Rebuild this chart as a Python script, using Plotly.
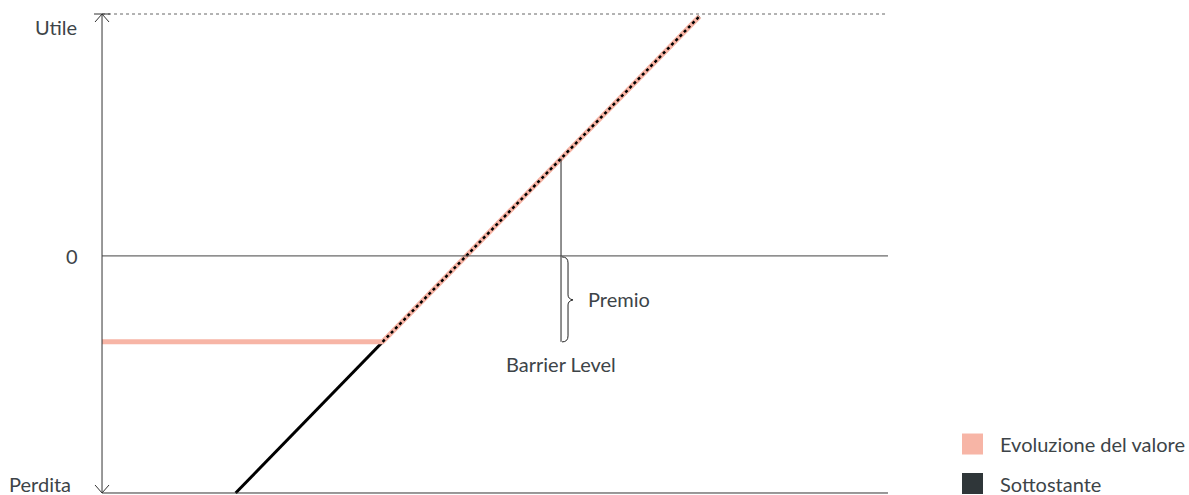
import plotly.graph_objects as go

# payoff diagram (underlying price on x, profit/loss on y)
sottostante_x = [17, 76]
sottostante_y = [-98, 99]
valore_x = [0, 35.7, 76]
valore_y = [-35.5, -35.5, 99]
barrier_x = 58.4
barrier_y = -35.5
premio_top = 40.2
y_min, y_max = -98, 100
y_labels = ["Utile", "0", "Perdita"]
y_label_vals = [y_max, 0, y_min]
legend_names = ["Evoluzione del valore", "Sottostante"]

SALMON = "#F7B5A6"
DARK = "#2F3639"
TEXT = "#3D4448"
FONT = "Lato"
FS = 20

fig = go.Figure()

fig.add_trace(go.Scatter(x=sottostante_x, y=sottostante_y, mode="lines",
                         line=dict(color="#000000", width=3), showlegend=False, hoverinfo="skip"))
fig.add_trace(go.Scatter(x=valore_x, y=valore_y, mode="lines",
                         line=dict(color=SALMON, width=5), showlegend=False, hoverinfo="skip"))
fig.add_trace(go.Scatter(x=valore_x[1:], y=valore_y[1:], mode="lines",
                         line=dict(color="#000000", width=2.5, dash="dot"), showlegend=False, hoverinfo="skip"))
# premium marker
fig.add_trace(go.Scatter(x=[barrier_x, barrier_x], y=[barrier_y, premio_top], mode="lines",
                         line=dict(color="#222222", width=1), showlegend=False, hoverinfo="skip"))

shapes = []
# vertical axis
shapes.append(dict(type="line", xref="x", yref="y", x0=0, x1=0, y0=y_min, y1=y_max,
                   line=dict(color="#333333", width=1)))
# top dotted line
shapes.append(dict(type="line", xref="x", yref="y", x0=0, x1=100, y0=y_max, y1=y_max,
                   line=dict(color="#666666", width=1, dash="dot")))
# zero line and bottom line
shapes.append(dict(type="line", xref="x", yref="y", x0=0, x1=100, y0=0, y1=0,
                   line=dict(color="#444444", width=1)))
shapes.append(dict(type="line", xref="x", yref="y", x0=0, x1=100, y0=y_min, y1=y_min,
                   line=dict(color="#333333", width=1)))
# arrow heads (pixel paths anchored on the axis)
shapes.append(dict(type="path", xref="x", yref="y", xsizemode="pixel", ysizemode="pixel",
                   xanchor=0, yanchor=y_max, path="M -7,-8 L 0,0 L 7,-8 M -8,0 L 8,0",
                   line=dict(color="#333333", width=1)))
shapes.append(dict(type="path", xref="x", yref="y", xsizemode="pixel", ysizemode="pixel",
                   xanchor=0, yanchor=y_min, path="M -7,8 L 0,0 L 7,8",
                   line=dict(color="#333333", width=1)))
# curly brace for the premium
shapes.append(dict(type="path", xref="x", yref="y", xsizemode="pixel", ysizemode="pixel",
                   xanchor=barrier_x, yanchor=0,
                   path="M 1,-1 Q 7,-1 7,-7 L 7,-39 Q 7,-43 12,-44 Q 7,-45 7,-49 "
                        "L 7,-80 Q 7,-86 1,-86",
                   line=dict(color="#222222", width=1)))
# legend squares
leg_x = 1.0873
leg_y = [0.1047, 0.0236]
for col, ly in zip([SALMON, DARK], leg_y):
    shapes.append(dict(type="rect", xref="paper", yref="paper", xsizemode="pixel", ysizemode="pixel",
                       xanchor=leg_x, yanchor=ly, x0=0, x1=21, y0=-10.5, y1=10.5,
                       fillcolor=col, line=dict(width=0)))

annotations = []
label_pos = {y_max: (-23, -13), 0: (-22, 0), y_min: (-29, 9)}
for lab, v in zip(y_labels, y_label_vals):
    xs, ys = label_pos[v]
    annotations.append(dict(x=0, y=v, xref="x", yref="y", text=lab, showarrow=False,
                            xanchor="right", yanchor="middle", xshift=xs, yshift=ys,
                            font=dict(size=FS, color=TEXT, family=FONT)))
annotations.append(dict(x=barrier_x, y=barrier_y, xref="x", yref="y", text="Barrier Level",
                        showarrow=False, yanchor="middle", yshift=-22,
                        font=dict(size=FS, color=TEXT, family=FONT)))
annotations.append(dict(x=barrier_x, y=barrier_y / 2, xref="x", yref="y", text="Premio",
                        showarrow=False, xanchor="left", yanchor="middle", xshift=25,
                        font=dict(size=FS, color=TEXT, family=FONT)))
for name, ly in zip(legend_names, leg_y):
    annotations.append(dict(x=leg_x, y=ly, xref="paper", yref="paper", text=name,
                            showarrow=False, xanchor="left", yanchor="middle", xshift=36, yshift=0,
                            font=dict(size=FS, color=TEXT, family=FONT)))

fig.update_layout(
    width=1189, height=495,
    margin=dict(l=90, r=297, t=8, b=0),
    plot_bgcolor="white", paper_bgcolor="white",
    xaxis=dict(range=[-1.53, 100.51], visible=False, fixedrange=True),
    yaxis=dict(range=[-98.83, 102.48], visible=False, fixedrange=True),
    shapes=shapes, annotations=annotations,
    showlegend=False,
    font=dict(family=FONT, color=TEXT),
)

fig.write_html("out.html", config={"displayModeBar": False},
               post_script="document.body.style.margin='0';")
